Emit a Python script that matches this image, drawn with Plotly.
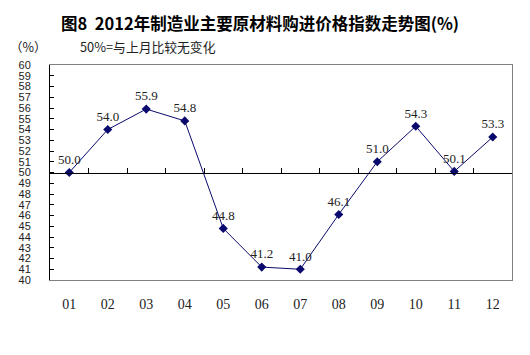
import plotly.graph_objects as go

months = ["01", "02", "03", "04", "05", "06", "07", "08", "09", "10", "11", "12"]
values = [50.0, 54.0, 55.9, 54.8, 44.8, 41.2, 41.0, 46.1, 51.0, 54.3, 50.1, 53.3]
y_ticks = list(range(40, 61))

title_text = "图8  2012年制造业主要原材料购进价格指数走势图(%)"
unit_text = "（%）"
note_text = "50%=与上月比较无变化"

navy = "#0a0a6e"
cjk = "Noto Sans CJK SC"

OFF = 8  # default page body margin
W, H = 530 - OFF, 355 - OFF
L, R = 50 - OFF, 512 - OFF
top, bottom = 64.5 - OFF, 280 - OFF


def px_to_paper(px, py):
    px -= OFF
    py -= OFF
    return (px - L) / (R - L), (bottom - py) / (bottom - top)


fig = go.Figure()
fig.add_trace(go.Scatter(
    x=months, y=values,
    mode="lines+markers+text",
    line=dict(color=navy, width=1),
    marker=dict(symbol="diamond", size=7, color=navy),
    text=[f"{v:.1f}" for v in values],
    textposition="top center",
    textfont=dict(family="Liberation Serif", size=13, color="#222222"),
    cliponaxis=False,
    showlegend=False,
))
# invisible trace to draw the overlay axes
fig.add_trace(go.Scatter(x=[months[0]], y=[50], xaxis="x2", yaxis="y2",
                         mode="markers", marker=dict(opacity=0), showlegend=False,
                         hoverinfo="skip"))

annots = []
for text, (px, py), anchor, font in [
    (f"<b>{title_text}</b>", (260, 22), "center", dict(family=cjk, size=16.5, color="black")),
    (unit_text, (28, 46), "center", dict(family=cjk, size=12.5, color="#222222")),
    (note_text, (78, 46), "left", dict(family=cjk, size=12.8, color="#222222")),
]:
    x, y = px_to_paper(px, py)
    annots.append(dict(text=text, x=x, y=y, xref="paper", yref="paper",
                       xanchor=anchor, yanchor="middle", showarrow=False, font=font))

fig.update_layout(
    width=W, height=H,
    margin=dict(l=L, r=W - R, t=top, b=H - bottom, autoexpand=False),
    paper_bgcolor="white", plot_bgcolor="white",
    xaxis=dict(
        type="category", categoryarray=months, range=[-0.5, 11.5],
        showgrid=False, zeroline=False, automargin=False,
        showline=True, linecolor="#808080", linewidth=1, mirror=True,
        ticks="", tickfont=dict(family="Liberation Serif", size=14, color="#222222"),
        ticklabelstandoff=11,
    ),
    xaxis2=dict(
        type="category", categoryarray=months, range=[-0.5, 11.5],
        overlaying="x", anchor="free", position=0.5, side="bottom",
        showgrid=False, zeroline=False, showline=True, linecolor="black", linewidth=1,
        ticks="inside", tickson="boundaries", ticklen=5, tickcolor="black",
        showticklabels=False,
    ),
    yaxis=dict(
        range=[40, 60], tickvals=y_ticks, ticktext=[str(v) for v in y_ticks],
        showgrid=False, zeroline=False, automargin=False,
        showline=True, linecolor="black", linewidth=1,
        ticks="inside", ticklen=4, tickcolor="black",
        tickfont=dict(family="Liberation Sans", size=11, color="#222222"),
        ticklabelstandoff=16,
    ),
    yaxis2=dict(overlaying="y", side="right", showline=True, linecolor="#808080",
                showticklabels=False, ticks="", showgrid=False, range=[40, 60],
                zeroline=False),
    annotations=annots,
)

fig.write_html("out.html")
